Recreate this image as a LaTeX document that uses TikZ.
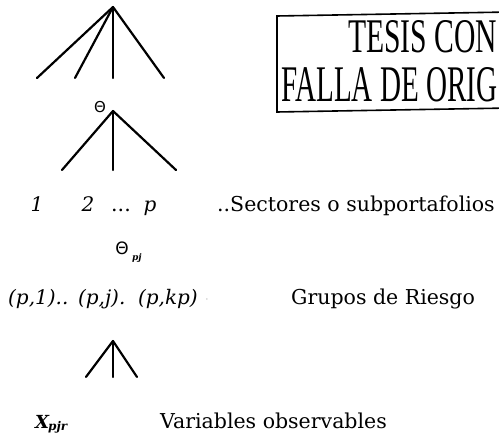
\documentclass[tikz,border=0pt]{standalone}
\usepackage{fontspec}
\setmainfont{DejaVu Serif}
\newfontfamily\boxfont{Liberation Serif}
\newfontfamily\thetafont{DejaVu Sans}
\begin{document}
\begin{tikzpicture}[x=1pt,y=-1pt,
  branch/.style={line width=2.2pt, line cap=round},
  lbl/.style={inner sep=0pt, font=\fontsize{20.5}{24}\selectfont},
  ilbl/.style={inner sep=0pt, font=\fontsize{20}{24}\selectfont\itshape},
  stamp/.style={inner sep=0pt, font=\boxfont}]
\useasboundingbox (0,0) rectangle (499,435);
\clip (0,0) rectangle (499,435);
% top tree
\coordinate (r1) at (113,7);
\coordinate (a1) at (37,78);
\coordinate (a2) at (75,78);
\coordinate (a3) at (113,78);
\coordinate (a4) at (164,78);
\foreach \e in {a1,a2,a3,a4} \draw[branch] (r1) -- (\e);
% theta
\node[inner sep=0pt, font=\thetafont\fontsize{15}{16}\selectfont] (th) at (100,107) {Θ};
\coordinate (r2) at (113,111);
\coordinate (b1) at (62,170);
\coordinate (b2) at (113,170);
\coordinate (b3) at (176,170);
\foreach \e in {b1,b2,b3} \draw[branch] (r2) -- (\e);
% stamp box
\draw[line width=1.6pt] (277,16) -- (510,12) -- (510,108) -- (277,112) -- cycle;
\node[stamp, anchor=base west] (s1) at (348,53) {\resizebox{149pt}{32pt}{TESIS CON}};
\node[stamp, anchor=base west] (s2) at (281,102) {\resizebox{216pt}{34pt}{FALLA DE ORIG}};
% level labels
\node[ilbl, anchor=base] (n1) at (37,212) {1};
\node[ilbl, anchor=base] (n2) at (88,212) {2};
\node[lbl, anchor=base] (nd) at (121,212) {...};
\node[ilbl, anchor=base] (np) at (150,212) {p};
\node[lbl, anchor=base west] (sec) at (217,212) {..Sectores o subportafolios};
% theta pj
\node[inner sep=0pt, font=\thetafont\fontsize{17}{18}\selectfont] (thpj) at (122,248) {Θ};
\node[inner sep=0pt, font=\fontsize{9}{10}\selectfont\itshape\bfseries, anchor=west] (pj) at (132,258) {pj};
% groups
\node[ilbl, anchor=base west] (grp) at (8,305) {(p,1)..\ \,(p,j).\ \ (p,kp)};
\node[inner sep=0pt, font=\fontsize{8}{8}\selectfont] (dot) at (207,300) {$\cdot$};
\node[lbl, anchor=base west] (gr) at (291,305) {Grupos de Riesgo};
% bottom tree
\coordinate (r3) at (113,341);
\coordinate (c1) at (86,377);
\coordinate (c2) at (113,377);
\coordinate (c3) at (137,377);
\foreach \e in {c1,c2,c3} \draw[branch] (r3) -- (\e);
% variables
\node[inner sep=0pt, anchor=base west, font=\fontsize{18}{20}\selectfont\itshape\bfseries] (x) at (35,429) {X\kern-1pt\raisebox{-2pt}{\fontsize{12}{13}\selectfont pjr}};
\node[lbl, anchor=base west] (var) at (160,429) {Variables observables};
\end{tikzpicture}
\end{document}
